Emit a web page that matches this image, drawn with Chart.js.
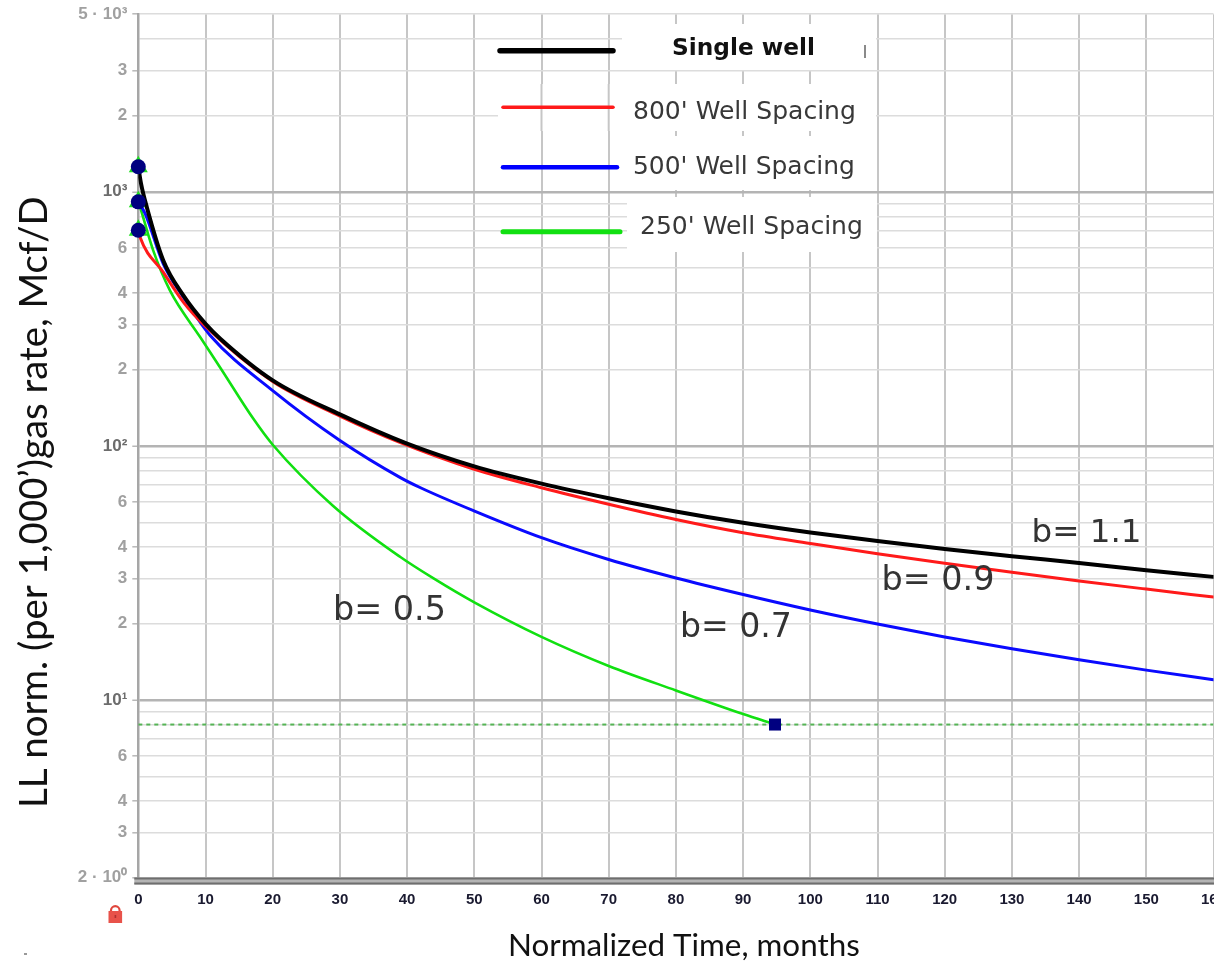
<!DOCTYPE html>
<html><head><meta charset="utf-8">
<script src="https://cdn.jsdelivr.net/npm/chart.js"></script>
<style>html,body{margin:0;padding:0;background:#fff;}#wrap{width:1214px;height:963px;position:relative;}</style>
</head><body><div id="wrap"><canvas id="c"></canvas></div>
<script>
// ---- data ----
const singleT = [0, 0.4, 1.25, 3.7, 6.7, 10, 12.2, 20, 30, 40, 50, 60, 70, 80, 90, 100, 110, 120, 130, 140, 150, 160];
const singleQ = [1255, 1080, 873, 538, 391, 302, 264, 181, 133, 102, 83, 71, 62.2, 55.2, 49.8, 45.6, 42.2, 39.3, 36.8, 34.6, 32.4, 30.5];
const w800T = [0, 0.25, 3.7, 6.7, 9.9, 20, 30, 39, 50, 60, 70, 80, 90, 100, 110, 120, 130, 140, 150, 160];
const w800Q = [706, 664, 483, 368, 297, 179, 131, 103, 80.9, 68.4, 58.9, 51.3, 45.5, 41.3, 37.6, 34.5, 31.8, 29.4, 27.3, 25.4];
const w500T = [0, 1, 3.7, 6.7, 10.7, 20, 30, 39, 42, 50, 60, 70, 80, 90, 100, 110, 120, 130, 140, 150, 160];
const w500Q = [913, 822, 522, 385, 272, 165, 105, 75, 68.4, 55.4, 43.5, 35.7, 30.2, 26.0, 22.6, 19.9, 17.7, 15.9, 14.4, 13.1, 12.0];
const w250T = [0, 0.25, 2.2, 4.7, 9.2, 12.2, 17.1, 20, 29, 39, 44, 50, 60, 70, 80, 90, 94.75];
const w250Q = [913, 873, 589, 409, 268, 203, 128, 101, 58, 36.5, 30, 24.2, 17.7, 13.6, 10.9, 8.8, 8];
const startT = [0, 0, 0];
const startQ = [1255, 913, 706];
const endT = [94.75];
const endQ = [8];
const limitT = [0, 160];
const limitQ = [8, 8];
const seriesNames = ['Single well', "800' Well Spacing", "500' Well Spacing", "250' Well Spacing"];
const bLabels = ['b= 1.1', 'b= 0.9', 'b= 0.7', 'b= 0.5'];
const xTicks = [0, 10, 20, 30, 40, 50, 60, 70, 80, 90, 100, 110, 120, 130, 140, 150, 160];
const yLabelValues = [2, 3, 4, 6, 10, 20, 30, 40, 60, 100, 200, 300, 400, 600, 1000, 2000, 3000, 5000];
const yLabelTexts = ['2 · 10⁰', '3', '4', '6', '10¹', '2', '3', '4', '6', '10²', '2', '3', '4', '6', '10³', '2', '3', '5 · 10³'];
const xTitle = 'Normalized Time, months';
const yTitle = 'LL norm. (per 1,000’)gas rate, Mcf/D';

// ---- helpers ----
const pts = (t, q) => t.map((v, i) => ({x: v, y: q[i]}));
const yLabelMap = new Map(yLabelValues.map((v, i) => [v, yLabelTexts[i]]));
const yGridValues = [];
for (let d = 1; d <= 1000; d *= 10) for (let m = (d === 1 ? 2 : 1); m <= 9; m++) { if (m * d <= 5000) yGridValues.push(m * d); }
const isDecade = v => v && Math.abs(Math.log10(v) - Math.round(Math.log10(v))) < 1e-9;

function fitText(ctx, text, x, y, w, weight, family) {
  ctx.font = weight + ' 100px ' + family;
  const m = ctx.measureText(text).width;
  ctx.font = weight + ' ' + (100 * w / m) + 'px ' + family;
  ctx.fillText(text, x, y);
}

const overlay = {
  id: 'overlay',
  afterDraw(chart) {
    const ctx = chart.ctx, ca = chart.chartArea, xs = chart.scales.x;
    ctx.save();
    // bottom axis band
    ctx.fillStyle = '#b4b4b4';
    ctx.fillRect(ca.left - 4, ca.bottom, ca.right - ca.left + 8, 7);
    ctx.fillStyle = '#6e6e6e';
    ctx.fillRect(ca.left - 4, ca.bottom, ca.right - ca.left + 8, 2);
    ctx.fillRect(ca.left - 4, ca.bottom + 5, ca.right - ca.left + 8, 2);
    // legend background boxes
    ctx.fillStyle = '#ffffff';
    ctx.fillRect(622, 24, 254, 46);
    ctx.fillRect(498, 84, 378, 47);
    ctx.fillRect(622, 136, 254, 54);
    ctx.fillRect(627, 197, 250, 55);
    // restore two vertical grid lines through the second box
    ctx.strokeStyle = '#c6c6c6'; ctx.lineWidth = 2;
    [60, 70].forEach(v => { const px = xs.getPixelForValue(v); ctx.beginPath(); ctx.moveTo(px, 84); ctx.lineTo(px, 131); ctx.stroke(); });
    // legend samples
    ctx.lineCap = 'round';
    const samples = [[500, 613, 50.7, 5.5, '#000000'], [503, 613, 107.3, 3.5, '#ff1a1a'], [503, 617, 167.3, 4.5, '#0000ff'], [503, 620, 231.7, 5, '#11e011']];
    samples.forEach(s => { ctx.strokeStyle = s[4]; ctx.lineWidth = s[3]; ctx.beginPath(); ctx.moveTo(s[0], s[2]); ctx.lineTo(s[1], s[2]); ctx.stroke(); });
    ctx.lineCap = 'butt';
    ctx.strokeStyle = '#8a8a8a'; ctx.lineWidth = 2;
    ctx.beginPath(); ctx.moveTo(865, 45); ctx.lineTo(865, 58); ctx.stroke();
    // legend texts
    ctx.textAlign = 'left'; ctx.textBaseline = 'alphabetic';
    ctx.fillStyle = '#111111';
    fitText(ctx, seriesNames[0], 672, 55, 143, 'bold', '"DejaVu Sans"');
    ctx.fillStyle = '#383838';
    fitText(ctx, seriesNames[1], 633, 118.5, 223, 'normal', '"DejaVu Sans"');
    fitText(ctx, seriesNames[2], 633, 173.5, 222, 'normal', '"DejaVu Sans"');
    fitText(ctx, seriesNames[3], 640, 234, 223, 'normal', '"DejaVu Sans"');
    // b-value annotations
    ctx.fillStyle = '#333333';
    fitText(ctx, bLabels[0], 1031.5, 541.5, 110, 'normal', '"DejaVu Sans"');
    fitText(ctx, bLabels[1], 881.5, 589.5, 113, 'normal', '"DejaVu Sans"');
    fitText(ctx, bLabels[2], 680, 637, 112, 'normal', '"DejaVu Sans"');
    fitText(ctx, bLabels[3], 333, 620, 113, 'normal', '"DejaVu Sans"');
    // axis titles
    ctx.fillStyle = '#111111';
    fitText(ctx, xTitle, 508, 956, 352, 'normal', 'Lato');
    ctx.save();
    ctx.translate(47, 808);
    ctx.rotate(-Math.PI / 2);
    fitText(ctx, yTitle, 0, 0, 612, 'normal', 'Lato');
    ctx.restore();
    // lock icon
    ctx.strokeStyle = '#e0463c'; ctx.lineWidth = 2.2;
    ctx.beginPath(); ctx.arc(115.3, 910.5, 4.3, Math.PI, 0); ctx.lineTo(119.6, 912); ctx.moveTo(111, 912); ctx.lineTo(111, 910.5); ctx.stroke();
    ctx.fillStyle = '#e8524a';
    ctx.fillRect(108.5, 911, 13.6, 12);
    ctx.fillStyle = '#b03030';
    ctx.fillRect(114.6, 915, 1.6, 3);
    ctx.fillStyle = '#999999';
    ctx.fillRect(24, 953, 3, 2);
    ctx.restore();
  }
};

const lineDs = (name, t, q, color, w) => ({
  type: 'line', label: name, data: pts(t, q), borderColor: color, borderWidth: w,
  pointRadius: 0, fill: false, cubicInterpolationMode: 'monotone', borderCapStyle: 'round', borderJoinStyle: 'round'
});

new Chart(document.getElementById('c'), {
  type: 'line',
  data: {
    datasets: [
      {type: 'line', showLine: false, data: pts(startT, startQ), pointStyle: 'circle', pointRadius: 7.5, pointBackgroundColor: '#000080', pointBorderWidth: 0, clip: false},
      {type: 'line', showLine: false, data: pts(endT, endQ), pointStyle: 'rect', pointRadius: 8.5, pointBackgroundColor: '#000080', pointBorderWidth: 0, clip: false},
      lineDs(seriesNames[0], singleT, singleQ, '#000000', 4),
      lineDs(seriesNames[1], w800T, w800Q, '#ff1a1a', 3),
      lineDs(seriesNames[2], w500T, w500Q, '#0a0aff', 3),
      lineDs(seriesNames[3], w250T, w250Q, '#11e011', 2.6),
      {type: 'line', showLine: false, data: pts(startT, startQ), pointStyle: 'triangle', pointRadius: 11, pointBackgroundColor: '#1fe01f', pointBorderWidth: 0, clip: false},
      {type: 'line', data: pts(limitT, limitQ), borderColor: 'rgba(70,175,70,0.9)', borderWidth: 2, borderDash: [4, 4], pointRadius: 0}
    ]
  },
  options: {
    animation: false, responsive: true, maintainAspectRatio: false, devicePixelRatio: 1,
    layout: {autoPadding: false, padding: {top: 14.2, right: 0.5, left: 0, bottom: 0}},
    plugins: {legend: {display: false}, tooltip: {enabled: false}},
    scales: {
      x: {
        type: 'linear', min: 0, max: 160,
        afterBuildTicks: s => { s.ticks = xTicks.map(v => ({value: v})); },
        afterFit: s => { s.height = 963 - 877.5; s.paddingLeft = 0; s.paddingRight = 0; },
        ticks: {autoSkip: false, maxRotation: 0, padding: 13, color: '#1a1a30', font: {family: '"Liberation Sans", Arial, sans-serif', size: 15, weight: 'bold'}},
        grid: {color: '#c6c6c6', lineWidth: 2, drawTicks: false},
        border: {display: false}
      },
      y: {
        type: 'logarithmic', min: 2, max: 5000,
        afterBuildTicks: s => { s.ticks = yGridValues.map(v => ({value: v})); },
        afterFit: s => { s.width = 138.3; s.paddingTop = 0; s.paddingBottom = 0; },
        ticks: {
          autoSkip: false, padding: 5,
          callback: v => yLabelMap.has(v) ? yLabelMap.get(v) : '',
          color: c => isDecade(c.tick && c.tick.value) ? '#6c6c6c' : '#a0a0a0',
          font: {family: '"Liberation Sans", Arial, sans-serif', size: 17, weight: 'bold'}
        },
        grid: {
          color: c => isDecade(c.tick && c.tick.value) ? '#b4b4b4' : '#dcdcdc',
          lineWidth: c => isDecade(c.tick && c.tick.value) ? 2.5 : 1.6,
          tickLength: 6, tickWidth: 1.5,
          tickColor: c => yLabelMap.has(c.tick && c.tick.value) ? '#b8b8b8' : 'rgba(0,0,0,0)'
        },
        border: {display: true, color: '#a6a6a6', width: 2.5}
      }
    }
  },
  plugins: [overlay]
});
</script>
</body></html>
